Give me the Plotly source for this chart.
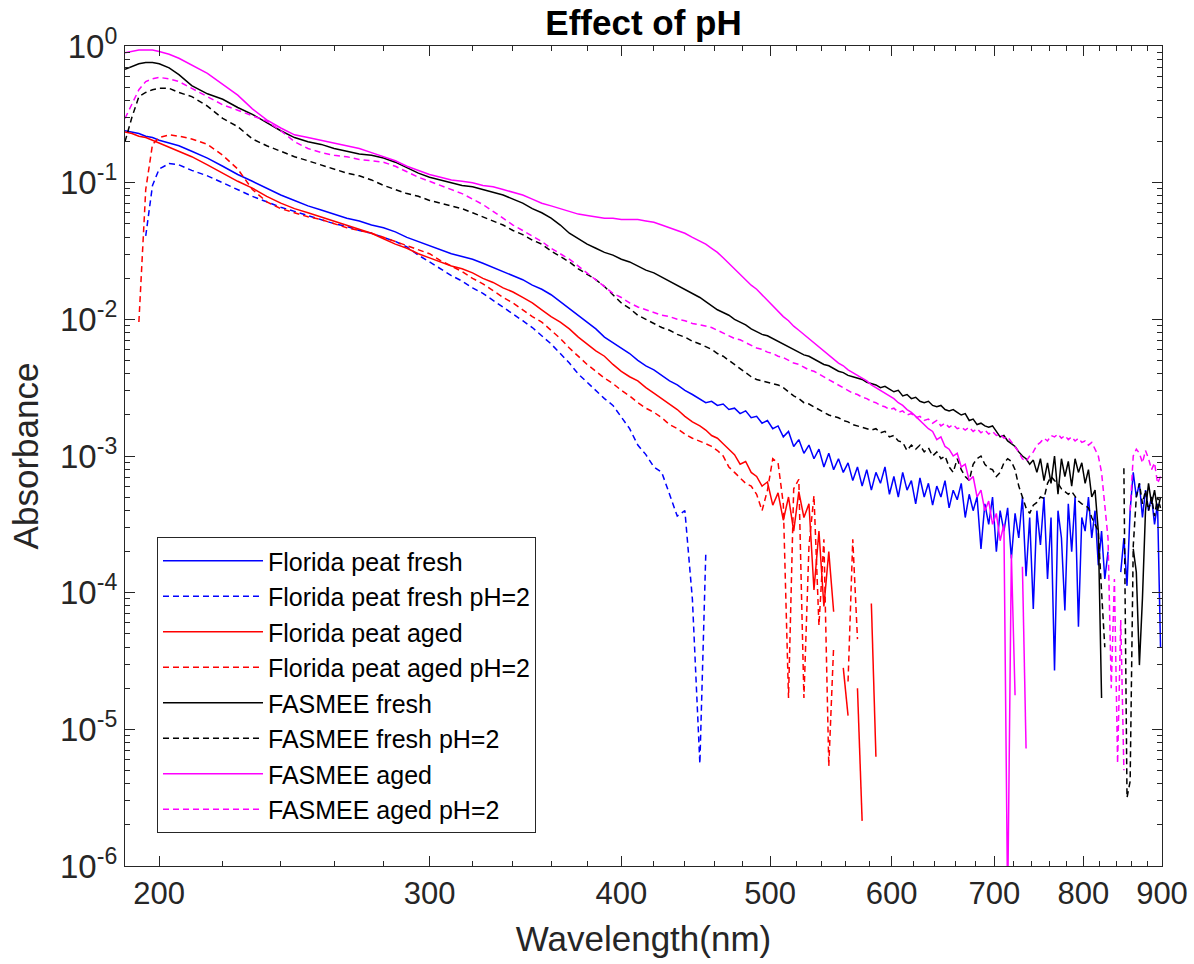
import math
import plotly.graph_objects as go

# ---------------- data ----------------
# wavelength grid (nm)
wl_start = [190, 192, 194, 196, 198, 200, 203, 206]
wl_mid = list(range(210, 450, 5))     # 210 ... 445
wl_tail = list(range(450, 899, 4))    # 450 ... 898
wavelength_nm = wl_start + wl_mid + wl_tail

# log10(absorbance); None = non-positive / missing value
fp_fresh_head = [
    -0.62, -0.63, -0.64, -0.66, -0.67, -0.69, -0.71, -0.73,
    -0.77, -0.82, -0.88, -0.94, -0.99, -1.04, -1.09, -1.13, -1.17, -1.20,
    -1.23, -1.26, -1.28, -1.31, -1.33, -1.36, -1.40, -1.43, -1.46, -1.49,
    -1.52, -1.54, -1.56, -1.59, -1.62, -1.65, -1.68, -1.71, -1.75, -1.78,
    -1.82, -1.87, -1.92, -1.97, -2.02, -2.07, -2.13, -2.17, -2.21, -2.25,
    -2.30, -2.34, -2.37, -2.41, -2.45, -2.48, -2.52, -2.55]
fp_fresh_tail = [
    -2.58, -2.61, -2.60, -2.63, -2.62, -2.66, -2.65, -2.69, -2.67, -2.72,
    -2.71, -2.76, -2.74, -2.80, -2.78, -2.86, -2.82, -2.93, -2.88, -2.98,
    -2.92, -3.02, -2.95, -3.08, -2.98, -3.10, -3.02, -3.12, -3.05, -3.18,
    -3.08, -3.22, -3.10, -3.25, -3.12, -3.20, -3.08, -3.28, -3.15, -3.30,
    -3.12, -3.25, -3.18, -3.35, -3.16, -3.30, -3.20, -3.36, -3.22, -3.30,
    -3.18, -3.38, -3.25, -3.32, -3.20, -3.45, -3.28, -3.40, -3.30, -3.68,
    -3.35, -3.50, -3.30, -3.70, -3.40, -3.55, -3.38, -3.75, -3.42, -3.60,
    -3.30, -3.88, -3.45, -4.12, -3.40, -3.65, -3.30, -3.90, -3.45, -4.57,
    -3.40, -3.60, -4.13, -3.35, -3.70, -3.30, -4.25, -3.45, -3.55, -3.30,
    -3.60, -3.40, -3.80, -3.55, -3.90, -3.70, None, None, None, -3.85,
    -3.60, -3.95, -3.40, -3.12, -3.30, -3.20, -3.45, -3.25, -3.40, -3.30,
    -3.50, -3.35, -4.40]

fp_fresh_ph2_head = [
    None, None, None, -1.39, -1.02, -0.90, -0.86, -0.87,
    -0.91, -0.95, -1.00, -1.05, -1.10, -1.14, -1.18, -1.21, -1.24, -1.27,
    -1.30, -1.32, -1.35, -1.37, -1.40, -1.43, -1.47, -1.53, -1.58, -1.63,
    -1.68, -1.72, -1.77, -1.81, -1.86, -1.91, -1.96, -2.01, -2.06, -2.12,
    -2.18, -2.25, -2.32, -2.40, -2.46, -2.52, -2.58, -2.63, -2.72, -2.80,
    -2.92, -2.99, -3.08, -3.12, -3.28, -3.44, -3.40, -4.05]
fp_fresh_ph2_tail = [-5.25, -3.72]

fp_aged_head = [
    -0.63, -0.64, -0.66, -0.67, -0.69, -0.71, -0.74, -0.77,
    -0.81, -0.87, -0.93, -0.99, -1.04, -1.10, -1.15, -1.19, -1.22, -1.25,
    -1.28, -1.31, -1.34, -1.37, -1.41, -1.45, -1.48, -1.52, -1.55, -1.58,
    -1.61, -1.63, -1.66, -1.70, -1.73, -1.77, -1.80, -1.84, -1.88, -1.93,
    -1.98, -2.02, -2.07, -2.13, -2.18, -2.23, -2.27, -2.33, -2.38, -2.42,
    -2.45, -2.50, -2.54, -2.58, -2.62, -2.66, -2.71, -2.75]
fp_aged_tail = [
    -2.78, -2.81, -2.85, -2.87, -2.91, -2.95, -2.99, -3.06, -3.04, -3.12,
    -3.15, -3.22, -3.19, -3.36, -3.27, -3.47, -3.30, -3.55, -3.26, -3.45,
    -3.35, -3.98, -3.55, -4.10, -3.70, -4.14, None, -4.55, -4.90, None,
    -4.70, -5.67, None, -4.08, -5.20]

fp_aged_ph2_head = [
    None, None, -2.02, -1.05, -0.72, -0.67, -0.65, -0.66,
    -0.68, -0.72, -0.80, -0.90, -1.05, -1.14, -1.19, -1.22, -1.25, -1.27,
    -1.30, -1.33, -1.35, -1.37, -1.40, -1.43, -1.46, -1.49, -1.52, -1.57,
    -1.61, -1.65, -1.70, -1.74, -1.79, -1.84, -1.88, -1.93, -1.98, -2.02,
    -2.08, -2.14, -2.21, -2.27, -2.33, -2.38, -2.43, -2.47, -2.52, -2.56,
    -2.61, -2.65, -2.68, -2.72, -2.77, -2.80, -2.84, -2.87]
fp_aged_ph2_tail = [
    -2.89, -2.91, -2.93, -2.96, -3.00, -3.08, -3.12, -3.16, -3.20, -3.22,
    -3.28, -3.40, -3.25, -3.02, -3.05, -3.35, -4.77, -3.24, -3.17, -4.77,
    -3.66, -3.29, -4.24, -3.61, -5.27, -4.39, None, None, -4.65, -3.61,
    -4.34]

fasmee_fresh_head = [
    -0.17, -0.15, -0.13, -0.12, -0.12, -0.13, -0.16, -0.21,
    -0.29, -0.35, -0.39, -0.45, -0.50, -0.56, -0.62, -0.67, -0.70, -0.72,
    -0.75, -0.77, -0.79, -0.80, -0.82, -0.85, -0.89, -0.93, -0.96, -0.98,
    -1.00, -1.02, -1.03, -1.05, -1.07, -1.09, -1.12, -1.15, -1.19, -1.22,
    -1.26, -1.31, -1.37, -1.41, -1.45, -1.48, -1.51, -1.53, -1.56, -1.58,
    -1.61, -1.64, -1.66, -1.69, -1.72, -1.75, -1.78, -1.81]
fasmee_fresh_tail = [
    -1.84, -1.87, -1.90, -1.93, -1.95, -1.97, -2.00, -2.02, -2.04, -2.07,
    -2.09, -2.11, -2.12, -2.14, -2.16, -2.18, -2.20, -2.22, -2.24, -2.26,
    -2.27, -2.29, -2.31, -2.33, -2.34, -2.36, -2.38, -2.39, -2.41, -2.42,
    -2.43, -2.44, -2.46, -2.47, -2.48, -2.50, -2.49, -2.51, -2.53, -2.52,
    -2.56, -2.55, -2.58, -2.57, -2.60, -2.61, -2.60, -2.63, -2.64, -2.63,
    -2.66, -2.67, -2.66, -2.68, -2.70, -2.69, -2.74, -2.73, -2.77, -2.76,
    -2.78, -2.79, -2.78, -2.82, -2.86, -2.85, -2.89, -2.91, -2.93, -2.97,
    -3.00, -3.02, -3.06, -3.03, -3.12, -3.02, -3.18, -3.05, -3.20, -3.00,
    -3.28, -3.02, -3.15, -3.04, -3.22, -3.02, -3.12, -3.05, -3.20, -3.10,
    -3.30, -3.25, -3.55, -4.77, None, None, None, None, None, None,
    None, None, None, -3.68, -3.85, -4.53, -4.04, -3.40, -3.20, -3.35,
    -3.25, -3.40, -3.30]

fasmee_fresh_ph2_head = [
    -0.70, -0.52, -0.37, -0.34, -0.32, -0.31, -0.31, -0.34,
    -0.37, -0.44, -0.53, -0.59, -0.68, -0.73, -0.77, -0.81, -0.84, -0.87,
    -0.90, -0.93, -0.95, -0.98, -1.02, -1.05, -1.08, -1.10, -1.13, -1.15,
    -1.17, -1.19, -1.22, -1.25, -1.28, -1.31, -1.35, -1.38, -1.42, -1.45,
    -1.50, -1.54, -1.58, -1.63, -1.67, -1.71, -1.76, -1.82, -1.88, -1.92,
    -1.97, -2.00, -2.03, -2.06, -2.08, -2.11, -2.13, -2.16]
fasmee_fresh_ph2_tail = [
    -2.18, -2.20, -2.22, -2.25, -2.27, -2.30, -2.33, -2.36, -2.39, -2.42,
    -2.44, -2.45, -2.46, -2.47, -2.48, -2.50, -2.53, -2.56, -2.58, -2.61,
    -2.62, -2.64, -2.66, -2.68, -2.70, -2.71, -2.72, -2.74, -2.75, -2.77,
    -2.78, -2.79, -2.80, -2.81, -2.80, -2.83, -2.82, -2.86, -2.85, -2.89,
    -2.90, -2.96, -2.92, -2.95, -2.92, -2.97, -2.94, -3.00, -2.97, -3.02,
    -3.00, -3.08, -3.12, -3.02, -3.10, -3.15, -3.18, -3.06, -3.02, -3.00,
    -3.06, -3.09, -3.10, -3.15, -3.12, -3.05, -3.02, -3.04, -3.10, -3.22,
    -3.30, -3.38, -3.42, -3.36, -3.34, -3.30, -3.31, -3.20, -3.15, -3.18,
    -3.20, -3.24, -3.26, -3.28, -3.26, -3.30, -3.33, -3.35, -3.36, -3.38,
    -3.45, -3.50, -3.55, -3.99, -4.40, None, None, None, None, None,
    -3.09, -5.50, -5.38, -3.66, -3.30, -3.20, -3.35, -3.25, -3.40, -3.30,
    -3.44, -3.30, -3.38]

fasmee_aged_head = [
    -0.05, -0.04, -0.03, -0.03, -0.03, -0.04, -0.06, -0.09,
    -0.14, -0.20, -0.28, -0.36, -0.46, -0.54, -0.60, -0.65, -0.67, -0.69,
    -0.71, -0.73, -0.75, -0.78, -0.81, -0.84, -0.88, -0.91, -0.94, -0.96,
    -0.98, -0.99, -1.00, -1.02, -1.03, -1.05, -1.07, -1.09, -1.12, -1.15,
    -1.17, -1.19, -1.21, -1.23, -1.24, -1.25, -1.26, -1.26, -1.27, -1.27,
    -1.27, -1.28, -1.29, -1.31, -1.33, -1.35, -1.37, -1.40]
fasmee_aged_tail = [
    -1.43, -1.45, -1.48, -1.51, -1.55, -1.59, -1.63, -1.67, -1.71, -1.75,
    -1.78, -1.82, -1.86, -1.90, -1.94, -1.98, -2.01, -2.05, -2.08, -2.11,
    -2.14, -2.17, -2.20, -2.23, -2.26, -2.29, -2.32, -2.34, -2.37, -2.39,
    -2.41, -2.43, -2.45, -2.48, -2.50, -2.52, -2.54, -2.56, -2.58, -2.61,
    -2.63, -2.66, -2.68, -2.71, -2.74, -2.77, -2.80, -2.82, -2.88, -2.86,
    -2.93, -2.95, -3.00, -2.98, -3.08, -3.06, -3.18, -3.15, -3.30, -3.25,
    -3.40, -3.33, -3.50, -3.42, -3.62, -3.50, -6.30, -3.72, -4.75, None,
    -3.81, -5.14]

fasmee_aged_ph2_head = [
    -0.53, -0.42, -0.32, -0.26, -0.24, -0.23, -0.24, -0.26,
    -0.31, -0.37, -0.43, -0.47, -0.51, -0.55, -0.62, -0.70, -0.75, -0.78,
    -0.80, -0.81, -0.83, -0.84, -0.85, -0.88, -0.92, -0.96, -0.99, -1.02,
    -1.05, -1.08, -1.12, -1.16, -1.21, -1.26, -1.31, -1.35, -1.39, -1.43,
    -1.48, -1.52, -1.56, -1.61, -1.66, -1.71, -1.76, -1.81, -1.84, -1.88,
    -1.91, -1.93, -1.95, -1.97, -1.98, -2.00, -2.01, -2.03]
fasmee_aged_ph2_tail = [
    -2.04, -2.05, -2.06, -2.08, -2.10, -2.12, -2.14, -2.15, -2.17, -2.19,
    -2.21, -2.22, -2.24, -2.25, -2.27, -2.28, -2.30, -2.32, -2.33, -2.35,
    -2.37, -2.38, -2.40, -2.42, -2.44, -2.46, -2.48, -2.50, -2.52, -2.54,
    -2.55, -2.57, -2.58, -2.60, -2.61, -2.63, -2.64, -2.66, -2.65, -2.68,
    -2.67, -2.70, -2.69, -2.72, -2.71, -2.74, -2.73, -2.76, -2.74, -2.78,
    -2.76, -2.79, -2.77, -2.80, -2.79, -2.81, -2.79, -2.82, -2.80, -2.83,
    -2.81, -2.84, -2.82, -2.85, -2.84, -2.87, -2.86, -2.90, -2.93, -2.97,
    -3.02, -3.04, -3.00, -2.97, -2.92, -2.90, -2.87, -2.89, -2.85, -2.86,
    -2.84, -2.87, -2.85, -2.88, -2.86, -2.89, -2.87, -2.90, -2.89, -2.92,
    -2.90, -2.95, -3.00, -3.12, -3.35, -3.60, -4.70, -3.90, -5.25, -4.20,
    -5.30, None, -3.40, -3.00, -2.95, -2.98, -3.05, -2.96, -3.02, -3.10,
    -3.05, -3.20, -3.15]

series_names = [
    "Florida peat fresh", "Florida peat fresh pH=2",
    "Florida peat aged", "Florida peat aged pH=2",
    "FASMEE fresh", "FASMEE fresh pH=2",
    "FASMEE aged", "FASMEE aged pH=2",
]
series_logs = [
    fp_fresh_head + fp_fresh_tail, fp_fresh_ph2_head + fp_fresh_ph2_tail,
    fp_aged_head + fp_aged_tail, fp_aged_ph2_head + fp_aged_ph2_tail,
    fasmee_fresh_head + fasmee_fresh_tail, fasmee_fresh_ph2_head + fasmee_fresh_ph2_tail,
    fasmee_aged_head + fasmee_aged_tail, fasmee_aged_ph2_head + fasmee_aged_ph2_tail,
]
series_colors = ["#0000FF", "#0000FF", "#FF0000", "#FF0000",
                 "#000000", "#000000", "#FF00FF", "#FF00FF"]
series_dash = ["solid", "6px,4px"] * 4

x_ticks = [200, 300, 400, 500, 600, 700, 800, 900]
x_minor = [v for v in range(220, 900, 20) if v % 100 != 0]
y_exponents = [-6, -5, -4, -3, -2, -1, 0]

# ---------------- figure ----------------
FONT = "Arial, Liberation Sans, Helvetica, sans-serif"
AX = "#262626"
W, H = 1194, 964
ML, MR, MT, MB = 125, 32, 46, 98
PW, PH = W - ML - MR, H - MT - MB

fig = go.Figure()
for name, logs, color, dash in zip(series_names, series_logs, series_colors, series_dash):
    xs = wavelength_nm[:len(logs)]
    ys = [None if v is None else 10 ** v for v in logs]
    fig.add_trace(go.Scatter(
        x=xs, y=ys, mode="lines", name=name, connectgaps=False,
        line=dict(color=color, width=1.5, dash=dash),
    ))

fig.update_layout(
    width=W, height=H,
    paper_bgcolor="white", plot_bgcolor="white",
    margin=dict(l=ML, r=MR, t=MT, b=MB, autoexpand=False),
    font=dict(family=FONT, color=AX),
    title=dict(text="<b>Effect of pH</b>", x=0.5, xref="paper", xanchor="center",
               y=1 - 23 / H, yref="container", yanchor="middle",
               font=dict(size=35, color="black", family=FONT)),
    legend=dict(x=(157 - ML) / PW, y=(866 - 833) / PH, xanchor="left", yanchor="bottom",
                bgcolor="white", bordercolor=AX, borderwidth=1,
                font=dict(size=25, color="black", family=FONT),
                tracegroupgap=0, itemwidth=100),
    showlegend=True,
)

fig.update_xaxes(
    type="log", range=[math.log10(190), math.log10(900)], automargin=False,
    tickmode="array", tickvals=x_ticks, ticktext=[str(v) for v in x_ticks],
    ticks="inside", ticklen=10, tickwidth=1, tickcolor=AX,
    minor=dict(tickmode="array", tickvals=x_minor, ticks="inside", ticklen=5,
               tickwidth=1, tickcolor=AX, showgrid=False),
    showline=True, linecolor=AX, linewidth=1.3, mirror="allticks",
    showgrid=False, zeroline=False,
    tickfont=dict(size=31, color=AX, family=FONT),
    title=dict(text="Wavelength(nm)", font=dict(size=35, color=AX, family=FONT), standoff=16),
)

y_minor = [k * 10 ** e for e in range(-6, 0) for k in range(2, 10)]
fig.update_yaxes(
    type="log", range=[-6, 0], automargin=False,
    tickmode="array", tickvals=[10 ** e for e in y_exponents],
    ticktext=["10<sup>%d</sup>" % e for e in y_exponents],
    ticks="inside", ticklen=10, tickwidth=1, tickcolor=AX,
    minor=dict(tickmode="array", tickvals=y_minor, ticks="inside", ticklen=5,
               tickwidth=1, tickcolor=AX, showgrid=False),
    showline=True, linecolor=AX, linewidth=1.3, mirror="allticks",
    showgrid=False, zeroline=False,
    tickfont=dict(size=33, color=AX, family=FONT),
    title=dict(text="Absorbance", font=dict(size=35, color=AX, family=FONT), standoff=10),
)

# remove the default 8 px page margin so the figure sits at the window's top-left corner
fig.write_html("out.html", config={"displayModeBar": False},
               post_script="document.body.style.margin='0px';")
